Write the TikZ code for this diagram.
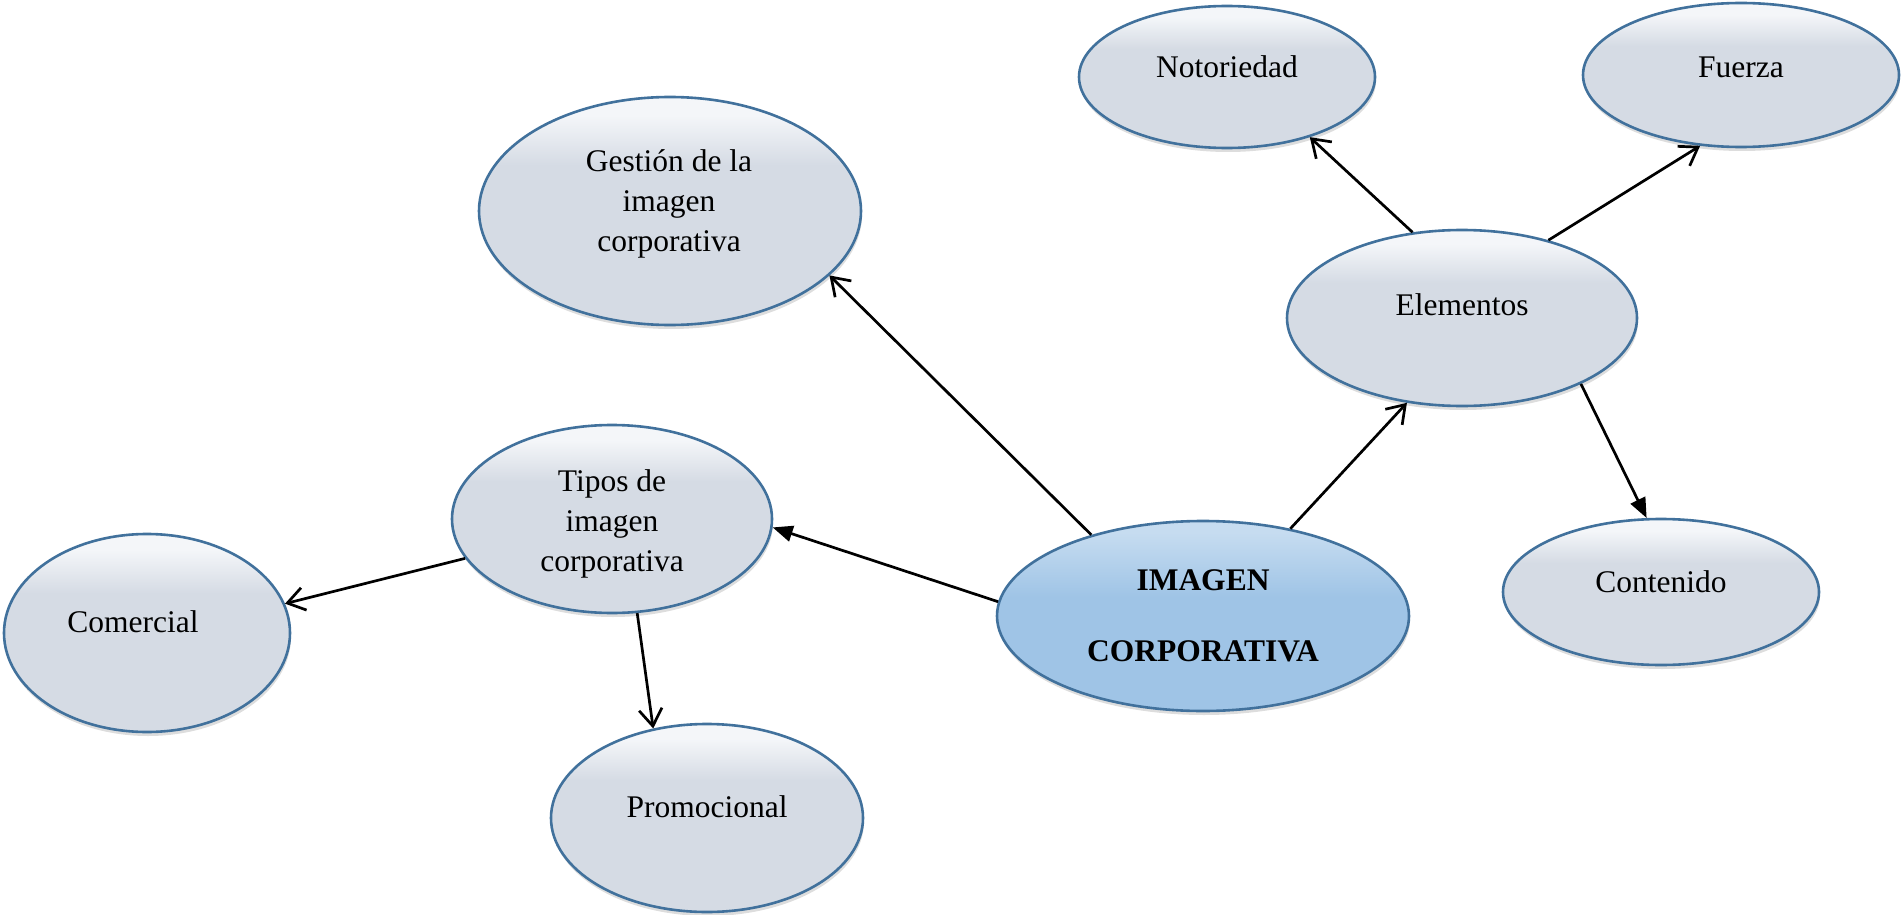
\documentclass[tikz,border=0pt]{standalone}
\usepackage{fontspec}
\setmainfont{Liberation Serif}
\usetikzlibrary{shapes.geometric,arrows.meta,shadows}
\definecolor{bord}{HTML}{41719C}
\definecolor{gtop}{HTML}{F4F6F9}
\definecolor{gfill}{HTML}{D5DBE4}
\definecolor{btop}{HTML}{C6DCF0}
\definecolor{bfill}{HTML}{9FC4E6}
\pgfdeclareverticalshading{greybub}{100bp}{color(0bp)=(gfill); color(25bp)=(gfill); color(60bp)=(gfill); color(71bp)=(gtop); color(100bp)=(gtop)}
\pgfdeclareverticalshading{bluebub}{100bp}{color(0bp)=(bfill); color(25bp)=(bfill); color(55bp)=(bfill); color(72bp)=(btop); color(100bp)=(btop)}
\begin{document}
\begin{tikzpicture}[x=1pt,y=-1pt,
  bub/.style={ellipse, draw=bord, line width=2.6pt, inner sep=0pt,
    shading=greybub,
    drop shadow={shadow xshift=1pt, shadow yshift=-4pt, opacity=0.22, fill=black!60}},
  mainbub/.style={bub, shading=bluebub},
  lab/.style={font=\fontsize{31.5}{40}\selectfont, align=center, inner sep=0pt},
  mainlab/.style={font=\fontsize{31.5}{71}\selectfont\bfseries, align=center, inner sep=0pt},
  conn/.style={line width=2.7pt, -{Straight Barb[length=17pt,width=23pt,line width=2.7pt]}},
  connf/.style={line width=2.7pt, -{Triangle[length=20pt,width=16pt]}}
]
\useasboundingbox (0,0) rectangle (1901,915);

% ellipses
\node[mainbub, minimum width=412pt, minimum height=190pt] (img) at (1203,616) {};
\node[bub, minimum width=382pt, minimum height=228pt] (ges) at (670,211) {};
\node[bub, minimum width=320pt, minimum height=188pt] (tip) at (612,519) {};
\node[bub, minimum width=350pt, minimum height=176pt] (ele) at (1462,318) {};
\node[bub, minimum width=286pt, minimum height=198pt] (com) at (147,633) {};
\node[bub, minimum width=312pt, minimum height=188pt] (pro) at (707,818) {};
\node[bub, minimum width=316pt, minimum height=146pt] (con) at (1661,592) {};
\node[bub, minimum width=296pt, minimum height=142pt] (not) at (1227,77) {};
\node[bub, minimum width=316pt, minimum height=144pt] (fue) at (1741,75) {};

% labels
\node[mainlab] (imgT) at (1203,616) {IMAGEN\\CORPORATIVA};
\node[lab] (gesT) at (669,204) {Gestión de la\\imagen\\corporativa};
\node[lab] (tipT) at (612,524) {Tipos de\\imagen\\corporativa};
\node[lab] (eleT) at (1462,305) {Elementos};
\node[lab] (comT) at (133,622) {Comercial};
\node[lab] (proT) at (707,807) {Promocional};
\node[lab] (conT) at (1661,582) {Contenido};
\node[lab] (notT) at (1227,67) {Notoriedad};
\node[lab] (fueT) at (1741,67) {Fuerza};

% connectors
\draw[conn] (img.144.5) -- (ges.-22.6);
\draw[connf] (img.176.3) -- (tip.-3);
\draw[conn] (img.45.1) -- (ele.-123);
\draw[conn] (tip.-165.2) -- (com.12.2);
\draw[conn] (tip.-75.1) -- (pro.121.8);
\draw[conn] (ele.120.4) -- (not.-36.3);
\draw[conn] (ele.42.2) -- (fue.-120.9);
\draw[connf] (ele.-29.5) -- (con.101.3);
\end{tikzpicture}
\end{document}
